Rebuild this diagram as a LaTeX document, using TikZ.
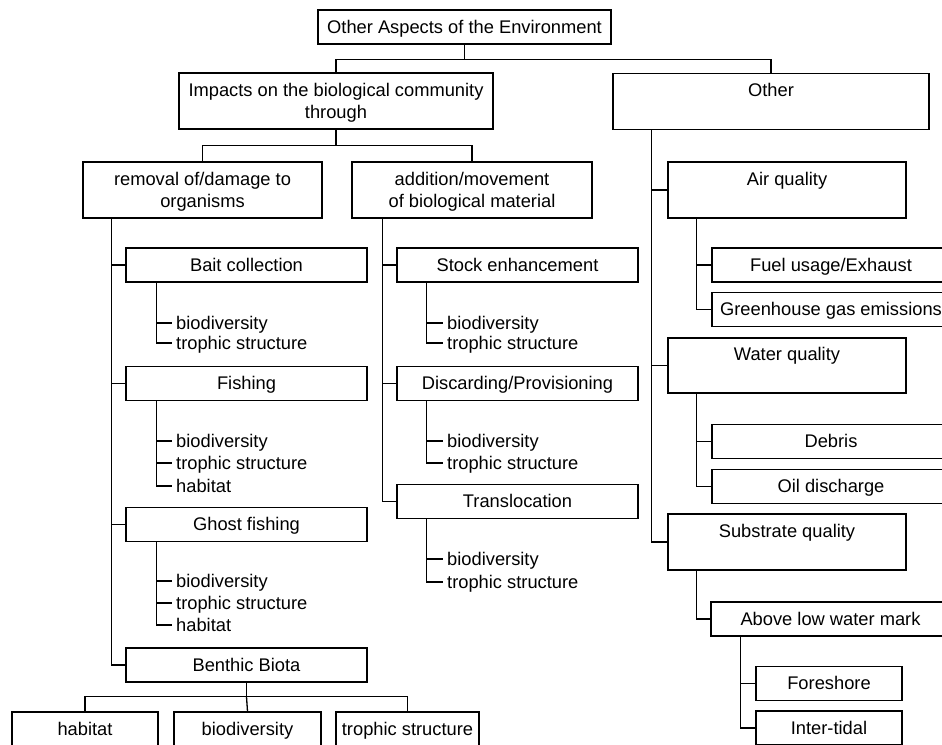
\documentclass[tikz,border=0pt]{standalone}
\usepackage{fontspec}
\setmainfont{Liberation Sans}
\newcommand\mys{\rule[-4.5pt]{0pt}{21.5pt}}
\begin{document}
\begin{tikzpicture}[x=1pt,y=-1pt,
  every node/.style={font=\fontsize{18.3}{22.5}\selectfont},
  box/.style={draw=black, line width=1.3pt, inner sep=0pt, align=center, minimum height=34pt},
  tall/.style={box, minimum height=56pt},
  leaf/.style={anchor=west, inner xsep=4pt, inner ysep=0pt},
  conn/.style={draw=black, line width=1.3pt}]
\useasboundingbox (0,0) rectangle (942,744);
\clip (0,0) rectangle (942,744);
\fill[white] (0,0) rectangle (942,744);

% level 0/1
\node[box, minimum width=293pt] (top) at (464.5,27) {\mys Other Aspects of the Environment};
\node[tall, minimum width=314pt] (impacts) at (336,101) {\mys Impacts on the biological community\\\mys through};
\node[tall, minimum width=316pt] (other) at (771,101.5) {\mys Other\\\mys};

% level 2
\node[tall, minimum width=239pt] (removal) at (202.5,190) {\mys removal of/damage to\\\mys organisms};
\node[tall, minimum width=240pt] (addition) at (472,190) {\mys addition/movement\\\mys of biological material};

% left column
\node[box, minimum width=241pt] (bait) at (246.5,265) {\mys Bait collection};
\node[box, minimum width=241pt] (fishing) at (246.5,383.5) {\mys Fishing};
\node[box, minimum width=241pt] (ghost) at (246.5,524.5) {\mys Ghost fishing};
\node[box, minimum width=241pt] (benthic) at (246.5,665) {\mys Benthic Biota};

\node[leaf] (bait1) at (172,323) {\mys biodiversity};
\node[leaf] (bait2) at (172,343) {\mys trophic structure};
\node[leaf] (fish1) at (172,441) {\mys biodiversity};
\node[leaf] (fish2) at (172,463) {\mys trophic structure};
\node[leaf] (fish3) at (172,486) {\mys habitat};
\node[leaf] (ghost1) at (172,581) {\mys biodiversity};
\node[leaf] (ghost2) at (172,603) {\mys trophic structure};
\node[leaf] (ghost3) at (172,625) {\mys habitat};

\node[box, minimum width=146pt] (bhab) at (85,729) {\mys habitat};
\node[box, minimum width=147pt] (bbio) at (247.5,729) {\mys biodiversity};
\node[box, minimum width=143pt] (btro) at (407.5,729) {\mys trophic structure};

% middle column
\node[box, minimum width=241pt] (stock) at (517.5,265) {\mys Stock enhancement};
\node[box, minimum width=241pt] (discard) at (517.5,383.5) {\mys Discarding/Provisioning};
\node[box, minimum width=241pt] (transloc) at (517.5,501.5) {\mys Translocation};

\node[leaf] (stock1) at (443,323) {\mys biodiversity};
\node[leaf] (stock2) at (443,343) {\mys trophic structure};
\node[leaf] (disc1) at (443,441) {\mys biodiversity};
\node[leaf] (disc2) at (443,463) {\mys trophic structure};
\node[leaf] (trans1) at (443,559) {\mys biodiversity};
\node[leaf] (trans2) at (443,582) {\mys trophic structure};

% right column
\node[tall, minimum width=238pt] (air) at (787,190) {\mys Air quality\\\mys};
\node[tall, minimum width=238pt, minimum height=55pt] (water) at (787,365.5) {\mys Water quality\\\mys};
\node[tall, minimum width=238pt] (substrate) at (787,542) {\mys Substrate quality\\\mys};

\node[box, minimum width=238pt] (fuel) at (831,265) {\mys Fuel usage/Exhaust};
\node[box, minimum width=238pt] (green) at (831,309.5) {\mys Greenhouse gas emissions};
\node[box, minimum width=238pt] (debris) at (831,441.5) {\mys Debris};
\node[box, minimum width=238pt] (oil) at (831,486.5) {\mys Oil discharge};
\node[box, minimum width=239pt] (above) at (830.5,619) {\mys Above low water mark};
\node[box, minimum width=146pt] (fore) at (829,683.5) {\mys Foreshore};
\node[box, minimum width=146pt] (inter) at (829,728) {\mys Inter-tidal};

% connectors: top levels
\draw[conn] (top.south) -- ++(0,15) coordinate (j0);
\draw[conn] (impacts.north) |- (j0) -| (other.north);
\draw[conn] (impacts.south) -- ++(0,16) coordinate (j1);
\draw[conn] (removal.north) |- (j1) -| (addition.north);

% removal spine
\coordinate (rv) at ([xshift=29pt]removal.south west);
\draw[conn] (rv) |- (benthic.west);
\draw[conn] (rv |- bait.west) -- (bait.west);
\draw[conn] (rv |- fishing.west) -- (fishing.west);
\draw[conn] (rv |- ghost.west) -- (ghost.west);

\coordinate (bv) at ([xshift=31pt]bait.south west);
\draw[conn] (bv) |- (bait2.west);
\draw[conn] (bv |- bait1.west) -- (bait1.west);
\coordinate (fv) at ([xshift=31pt]fishing.south west);
\draw[conn] (fv) |- (fish3.west);
\draw[conn] (fv |- fish1.west) -- (fish1.west);
\draw[conn] (fv |- fish2.west) -- (fish2.west);
\coordinate (gv) at ([xshift=31pt]ghost.south west);
\draw[conn] (gv) |- (ghost3.west);
\draw[conn] (gv |- ghost1.west) -- (ghost1.west);
\draw[conn] (gv |- ghost2.west) -- (ghost2.west);

\draw[conn] (benthic.south) -- ++(0,14) coordinate (j2);
\draw[conn] (bhab.north) |- (j2) -| (btro.north);
\draw[conn] (j2) -- (bbio.north);

% addition spine
\coordinate (av) at ([xshift=31pt]addition.south west);
\draw[conn] (av) |- (transloc.west);
\draw[conn] (av |- stock.west) -- (stock.west);
\draw[conn] (av |- discard.west) -- (discard.west);

\coordinate (sv) at ([xshift=30pt]stock.south west);
\draw[conn] (sv) |- (stock2.west);
\draw[conn] (sv |- stock1.west) -- (stock1.west);
\coordinate (dv) at ([xshift=30pt]discard.south west);
\draw[conn] (dv) |- (disc2.west);
\draw[conn] (dv |- disc1.west) -- (disc1.west);
\coordinate (tv) at ([xshift=30pt]transloc.south west);
\draw[conn] (tv) |- (trans2.west);
\draw[conn] (tv |- trans1.west) -- (trans1.west);

% other spine
\coordinate (ov) at ([xshift=39pt]other.south west);
\draw[conn] (ov) |- (substrate.west);
\draw[conn] (ov |- air.west) -- (air.west);
\draw[conn] (ov |- water.west) -- (water.west);

\coordinate (aqv) at ([xshift=29pt]air.south west);
\draw[conn] (aqv) |- (green.west);
\draw[conn] (aqv |- fuel.west) -- (fuel.west);
\coordinate (wqv) at ([xshift=29pt]water.south west);
\draw[conn] (wqv) |- (oil.west);
\draw[conn] (wqv |- debris.west) -- (debris.west);
\coordinate (sqv) at ([xshift=29pt]substrate.south west);
\draw[conn] (sqv) |- (above.west);
\coordinate (alv) at ([xshift=30pt]above.south west);
\draw[conn] (alv) |- (inter.west);
\draw[conn] (alv |- fore.west) -- (fore.west);
\end{tikzpicture}
\end{document}
